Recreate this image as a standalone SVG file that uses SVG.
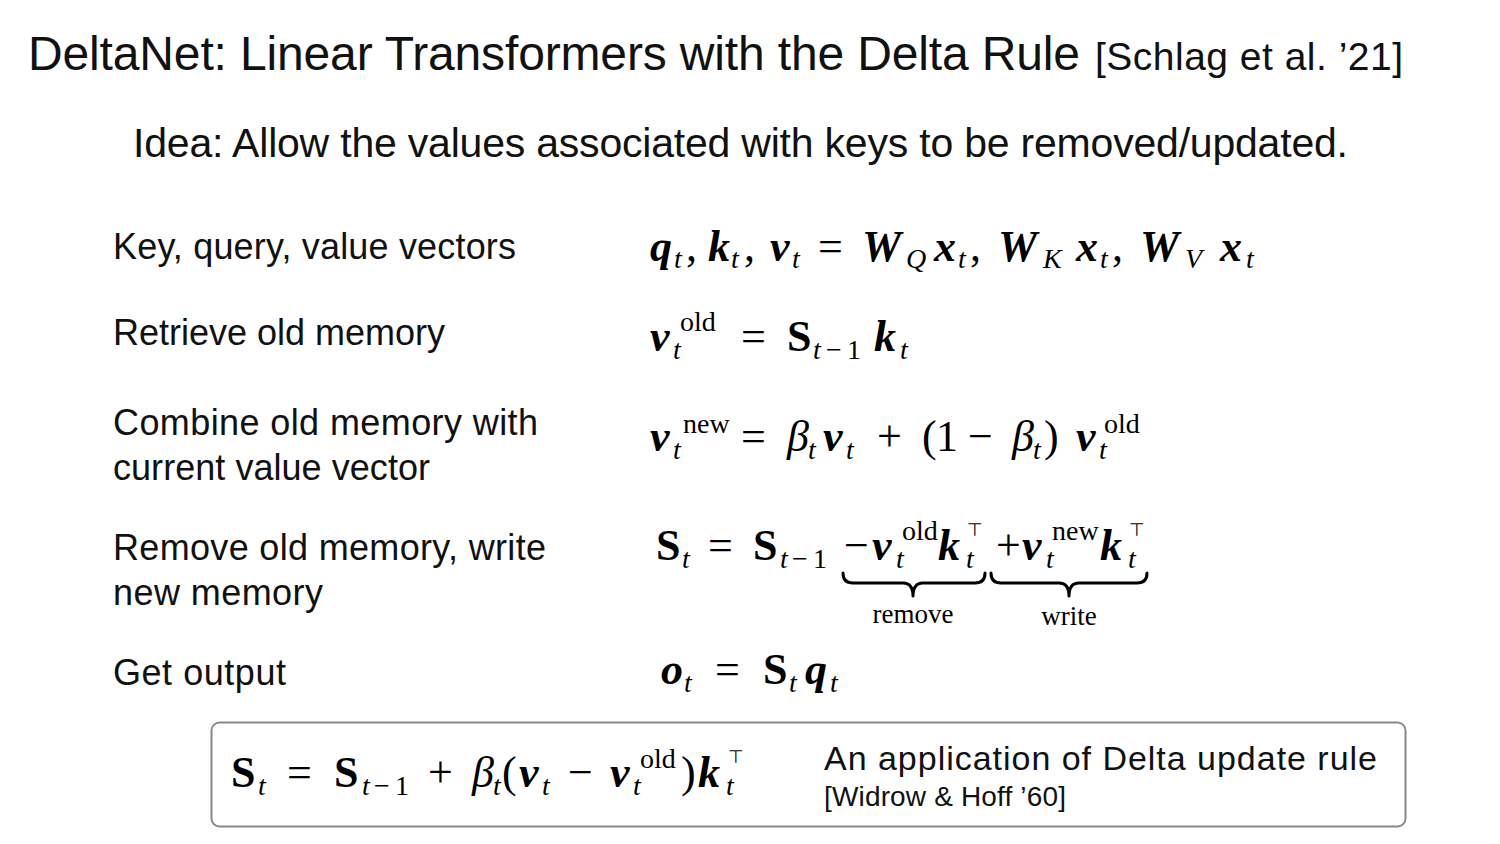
<svg xmlns="http://www.w3.org/2000/svg" width="1500" height="844" viewBox="0 0 1500 844">
<style>
.sans{font-family:"Liberation Sans",Arial,sans-serif;fill:#111}
.m{font-family:"Liberation Serif","Times New Roman",serif;font-size:44px;fill:#000}
.bi{font-weight:bold;font-style:italic}
.b{font-weight:bold}
.i{font-style:italic}
.sub{font-size:28px}
.tp{font-family:"DejaVu Sans",sans-serif;font-size:18px}
.lbl{font-family:"Liberation Serif","Times New Roman",serif;font-size:27px;fill:#000}
.brace{fill:none;stroke:#000;stroke-width:3;stroke-linecap:round;stroke-linejoin:round}
</style>
<rect width="1500" height="844" fill="#fff"/>
<g id="title">
<text class="sans" x="28" y="70" font-size="48" textLength="1052">DeltaNet: Linear Transformers with the Delta Rule</text>
<text class="sans" x="1095" y="70" font-size="39" textLength="308">[Schlag et al. ’21]</text>
</g>
<g id="idea">
<text class="sans" x="133" y="157" font-size="41" textLength="1215">Idea: Allow the values associated with keys to be removed/updated.</text>
</g>
<g id="labels">
<text class="sans" x="113" y="259" font-size="36" textLength="403">Key, query, value vectors</text>
<text class="sans" x="113" y="345" font-size="36" textLength="332">Retrieve old memory</text>
<text class="sans" x="113" y="435" font-size="36" textLength="425">Combine old memory with</text>
<text class="sans" x="113" y="480" font-size="36" textLength="317">current value vector</text>
<text class="sans" x="113" y="560" font-size="36" textLength="433">Remove old memory, write</text>
<text class="sans" x="113" y="605" font-size="36" textLength="210">new memory</text>
<text class="sans" x="113" y="685" font-size="36" textLength="173">Get output</text>
</g>
<g id="eq1">
<text class="m" y="261"><tspan class="bi" x="650">q</tspan><tspan class="i sub" x="674" y="268">t</tspan><tspan x="686" y="261">,</tspan><tspan class="bi" x="708">k</tspan><tspan class="i sub" x="731" y="268">t</tspan><tspan x="744" y="261">,</tspan><tspan class="bi" x="770">v</tspan><tspan class="i sub" x="792" y="268">t</tspan><tspan x="818" y="261">=</tspan><tspan class="bi" x="862">W</tspan><tspan class="i sub" x="906" y="268">Q</tspan><tspan class="bi" x="934" y="261">x</tspan><tspan class="i sub" x="958" y="268">t</tspan><tspan x="970" y="261">,</tspan><tspan class="bi" x="998">W</tspan><tspan class="i sub" x="1043" y="268">K</tspan><tspan class="bi" x="1076" y="261">x</tspan><tspan class="i sub" x="1100" y="268">t</tspan><tspan x="1112" y="261">,</tspan><tspan class="bi" x="1140">W</tspan><tspan class="i sub" x="1185" y="268">V</tspan><tspan class="bi" x="1220" y="261">x</tspan><tspan class="i sub" x="1246" y="268">t</tspan></text>
</g>
<g id="eq2">
<text class="m" y="351"><tspan class="bi" x="650">v</tspan><tspan class="i sub" x="673" y="359">t</tspan><tspan class="sub" x="680" y="331">old</tspan><tspan x="741" y="351">=</tspan><tspan class="b" x="787">S</tspan><tspan class="i sub" x="813" y="359">t</tspan><tspan class="sub" x="826">−</tspan><tspan class="sub" x="847">1</tspan><tspan class="bi" x="874" y="351">k</tspan><tspan class="i sub" x="900" y="359">t</tspan></text>
</g>
<g id="eq3">
<text class="m" y="451"><tspan class="bi" x="650">v</tspan><tspan class="i sub" x="673" y="459">t</tspan><tspan class="sub" x="683" y="433">new</tspan><tspan x="741" y="451">=</tspan><tspan class="i" x="787">β</tspan><tspan class="i sub" x="808" y="459">t</tspan><tspan class="bi" x="823" y="451">v</tspan><tspan class="i sub" x="846" y="459">t</tspan><tspan x="877" y="451">+</tspan><tspan x="922">(</tspan><tspan x="936">1</tspan><tspan x="968">−</tspan><tspan class="i" x="1012">β</tspan><tspan class="i sub" x="1033" y="459">t</tspan><tspan x="1044" y="451">)</tspan><tspan class="bi" x="1076">v</tspan><tspan class="i sub" x="1099" y="459">t</tspan><tspan class="sub" x="1104" y="433">old</tspan></text>
</g>
<g id="eq4">
<text class="m" y="560"><tspan class="b" x="656">S</tspan><tspan class="i sub" x="682" y="568">t</tspan><tspan x="708" y="560">=</tspan><tspan class="b" x="753">S</tspan><tspan class="i sub" x="780" y="568">t</tspan><tspan class="sub" x="792">−</tspan><tspan class="sub" x="813">1</tspan><tspan x="844" y="560">−</tspan><tspan class="bi" x="872">v</tspan><tspan class="i sub" x="896" y="568">t</tspan><tspan class="sub" x="902" y="540">old</tspan><tspan class="bi" x="938" y="560">k</tspan><tspan class="i sub" x="966" y="568">t</tspan><tspan x="996" y="560">+</tspan><tspan class="bi" x="1022">v</tspan><tspan class="i sub" x="1046" y="568">t</tspan><tspan class="sub" x="1052" y="540">new</tspan><tspan class="bi" x="1100" y="560">k</tspan><tspan class="i sub" x="1128" y="568">t</tspan></text>
<text class="tp" x="967" y="536">⊤</text>
<text class="tp" x="1129" y="536">⊤</text>
<path class="brace" d="M843,573 Q843,583 853,583 L903,583 Q913,583 913,596 Q913,583 923,583 L975,583 Q985,583 985,573"/>
<path class="brace" d="M991,573 Q991,583 1001,583 L1059,583 Q1069,583 1069,596 Q1069,583 1079,583 L1137,583 Q1147,583 1147,573"/>
<text class="lbl" x="913" y="623" text-anchor="middle">remove</text>
<text class="lbl" x="1069" y="625" text-anchor="middle">write</text>
</g>
<g id="eq5">
<text class="m" y="684"><tspan class="bi" x="661">o</tspan><tspan class="i sub" x="684" y="692">t</tspan><tspan x="715" y="684">=</tspan><tspan class="b" x="763">S</tspan><tspan class="i sub" x="789" y="692">t</tspan><tspan class="bi" x="805" y="684">q</tspan><tspan class="i sub" x="830" y="692">t</tspan></text>
</g>
<g id="delta-box">
<rect x="211.5" y="722.5" width="1194" height="104" rx="8" fill="none" stroke="#888" stroke-width="2"/>
<text class="m" y="787"><tspan class="b" x="231">S</tspan><tspan class="i sub" x="258" y="795">t</tspan><tspan x="287" y="787">=</tspan><tspan class="b" x="334">S</tspan><tspan class="i sub" x="362" y="795">t</tspan><tspan class="sub" x="374">−</tspan><tspan class="sub" x="395">1</tspan><tspan x="428" y="787">+</tspan><tspan class="i" x="472">β</tspan><tspan class="i sub" x="493" y="795">t</tspan><tspan x="502" y="787">(</tspan><tspan class="bi" x="519">v</tspan><tspan class="i sub" x="542" y="795">t</tspan><tspan x="568" y="787">−</tspan><tspan class="bi" x="610">v</tspan><tspan class="i sub" x="633" y="795">t</tspan><tspan class="sub" x="640" y="768">old</tspan><tspan x="681" y="787">)</tspan><tspan class="bi" x="698">k</tspan><tspan class="i sub" x="726" y="795">t</tspan></text>
<text class="tp" x="728" y="763">⊤</text>
<text class="sans" x="824" y="770" font-size="34" textLength="553">An application of Delta update rule</text>
<text class="sans" x="824" y="806" font-size="28" textLength="242">[Widrow &amp; Hoff ’60]</text>
</g>
</svg>
